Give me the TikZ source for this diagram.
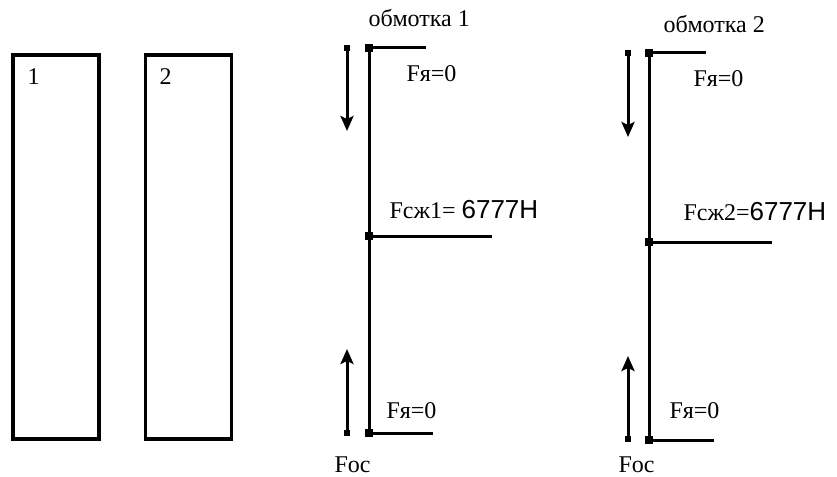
\documentclass[tikz,border=0pt]{standalone}
\usepackage{fontspec}
\newfontfamily\lblfont{Liberation Serif}
\newfontfamily\numfont{Liberation Sans}
\newcommand{\bignum}[1]{{\numfont\fontsize{26}{28}\selectfont #1}}
\usetikzlibrary{arrows.meta}

\begin{document}
\begin{tikzpicture} [ % стили
    x=1pt, y=-1pt, line width=3pt, >={Stealth[length=15pt,width=13pt,inset=3pt]},
    core/.style = {shape = rectangle, minimum width = 86pt, minimum height = 384pt, draw, line width=3.5pt, inner sep=0pt},
    dot/.style = {shape = rectangle, fill, minimum size = 8pt, inner sep=0pt},
    dot2/.style = {shape = rectangle, fill, minimum size = 6pt, inner sep=0pt},
    txt/.style = {anchor = base west, inner sep=0pt, font = \lblfont\fontsize{24}{26}\selectfont}
]
\useasboundingbox (0,0) rectangle (837,476);

% стержни
\node [core] (c1) at (56,247){};
\node [core] (c2) at (188.5,247){};
\node [txt] (n1) at (26,85){1};
\node [txt] (n2) at (158,85){2};

% обмотка 1
\node [txt] (w1) at (367,27){обмотка 1};
\node [dot] (t1) at (369,48){};
\node [dot] (m1) at (369,236){};
\node [dot] (b1) at (369,433){};
\coordinate (te1) at (426,48);
\coordinate (me1) at (492,236);
\coordinate (be1) at (433,433);
\node [dot2] (at1) at (347,48){};
\node [dot2] (ab1) at (347,433){};
\coordinate (ad1) at (347,131);
\coordinate (au1) at (347,349);
\node [txt] (fy1) at (405,82){Fя=0};
\node [txt] (fs1) at (388,218){Fсж1= \bignum{6777H}};
\node [txt] (fb1) at (385,418){Fя=0};
\node [txt] (fo1) at (333,472){Foc};

% обмотка 2
\node [txt] (w2) at (662,33){обмотка 2};
\node [dot] (t2) at (649,53){};
\node [dot] (m2) at (649,242){};
\node [dot] (b2) at (649,440){};
\coordinate (te2) at (706,53);
\coordinate (me2) at (772,242);
\coordinate (be2) at (714,440);
\node [dot2] (at2) at (628,53){};
\node [dot2] (ab2) at (628,439){};
\coordinate (ad2) at (628,137);
\coordinate (au2) at (628,356);
\node [txt] (fy2) at (692,87){Fя=0};
\node [txt] (fs2) at (682,220){Fсж2=\bignum{6777H}};
\node [txt] (fb2) at (668,418){Fя=0};
\node [txt] (fo2) at (617,472){Foc};

% линии
\draw (t1.center)--(m1.center)--(b1.center);
\draw (t1.center)--(te1);
\draw (m1.center)--(me1);
\draw (b1.center)--(be1);
\draw (t2.center)--(m2.center)--(b2.center);
\draw (t2.center)--(te2);
\draw (m2.center)--(me2);
\draw (b2.center)--(be2);

% стрелки
\draw [->](at1.center)--(ad1);
\draw [->](ab1.center)--(au1);
\draw [->](at2.center)--(ad2);
\draw [->](ab2.center)--(au2);

\end{tikzpicture}
\end{document}
